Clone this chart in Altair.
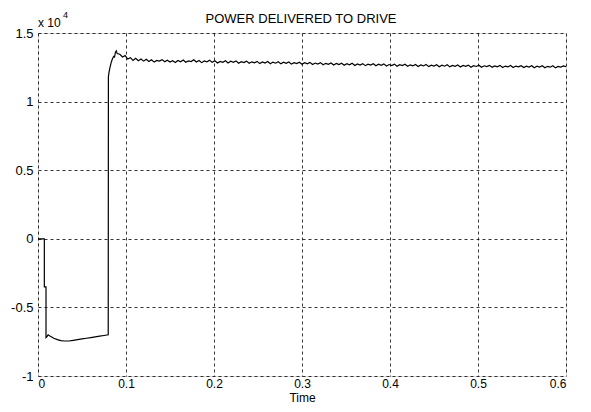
import altair as alt
import pandas as pd

# Transient part (time in s, power in units of 1e4)
t_transient = [0, 0.0072, 0.0072, 0.0091, 0.0091, 0.0100, 0.0115, 0.014, 0.018, 0.022,
               0.026, 0.030, 0.035, 0.040, 0.045, 0.050, 0.055, 0.060, 0.065, 0.070,
               0.075, 0.0798, 0.0800, 0.0806, 0.0815, 0.0830, 0.0845, 0.0860, 0.0870,
               0.0880, 0.0890, 0.0900]
p_transient = [0, 0, -0.35, -0.35, -0.72, -0.715, -0.70, -0.71, -0.725, -0.735,
               -0.742, -0.745, -0.745, -0.74, -0.735, -0.73, -0.725, -0.72, -0.715, -0.71,
               -0.705, -0.70, 1.18, 1.21, 1.24, 1.28, 1.31, 1.33, 1.325,
               1.36, 1.37, 1.35]

# Steady-state part, sampled every 0.003 s from 0.093 s
ss_start = 0.093
ss_step = 0.003
p_steady = [
    1.345, 1.325, 1.335, 1.310, 1.320, 1.300, 1.315, 1.298, 1.310, 1.295,
    1.308, 1.292, 1.305, 1.288, 1.300, 1.295, 1.306, 1.290, 1.302, 1.288,
    1.298, 1.285, 1.300, 1.290, 1.303, 1.287, 1.296, 1.292, 1.305, 1.289,
    1.300, 1.284, 1.296, 1.290, 1.302, 1.286, 1.297, 1.281, 1.293, 1.286,
    1.298, 1.282, 1.294, 1.287, 1.297, 1.280, 1.291, 1.284, 1.295, 1.279,
    1.290, 1.283, 1.293, 1.277, 1.289, 1.281, 1.292, 1.276, 1.288, 1.280,
    1.290, 1.275, 1.287, 1.279, 1.289, 1.273, 1.284, 1.277, 1.287, 1.272,
    1.283, 1.275, 1.286, 1.270, 1.281, 1.273, 1.284, 1.268, 1.279, 1.272,
    1.282, 1.267, 1.278, 1.270, 1.280, 1.265, 1.276, 1.268, 1.279, 1.263,
    1.275, 1.267, 1.277, 1.262, 1.273, 1.266, 1.276, 1.261, 1.272, 1.265,
    1.275, 1.259, 1.270, 1.263, 1.273, 1.258, 1.269, 1.262, 1.272, 1.257,
    1.268, 1.261, 1.271, 1.256, 1.267, 1.260, 1.270, 1.255, 1.266, 1.259,
    1.269, 1.254, 1.265, 1.258, 1.268, 1.253, 1.264, 1.257, 1.267, 1.252,
    1.263, 1.257, 1.266, 1.251, 1.262, 1.256, 1.265, 1.250, 1.261, 1.255,
    1.264, 1.250, 1.260, 1.254, 1.264, 1.249, 1.259, 1.253, 1.263, 1.249,
    1.259, 1.253, 1.262, 1.248, 1.258, 1.252, 1.262, 1.247, 1.258, 1.252,
    1.261, 1.247, 1.257, 1.251, 1.261, 1.246, 1.256, 1.251, 1.260, 1.255,
]
t_steady = [round(ss_start + ss_step * i, 4) for i in range(len(p_steady))]

x_ticks = [0, 0.1, 0.2, 0.3, 0.4, 0.5, 0.6]
y_ticks = [-1, -0.5, 0, 0.5, 1, 1.5]

times = t_transient + t_steady
power = p_transient + p_steady
df = pd.DataFrame({"t": times, "p": power, "i": list(range(len(times)))})

FONT = "Liberation Sans"

axis_common = dict(
    grid=True, gridColor="black", gridDash=[3, 3], gridOpacity=1, gridWidth=0.8,
    domain=False, ticks=False, labelFont=FONT, labelColor="black",
)

line = alt.Chart(df).mark_line(color="black", strokeWidth=1.2).encode(
    x=alt.X("t:Q", scale=alt.Scale(domain=[0, 0.6], nice=False, zero=False),
            axis=alt.Axis(values=x_ticks, labelExpr="toString(datum.value)",
                          title="Time", titleFont=FONT, titleFontSize=12,
                          titleFontWeight="normal", titleColor="black",
                          titleBaseline="alphabetic", titleY=25,
                          labelFontSize=12, labelPadding=2, **axis_common)),
    y=alt.Y("p:Q", scale=alt.Scale(domain=[-1, 1.5], nice=False, zero=False),
            axis=alt.Axis(values=y_ticks, labelExpr="toString(datum.value)",
                          title=None, labelFontSize=13, labelPadding=5, **axis_common)),
    order="i:Q",
)

title_df = pd.DataFrame({"label": ["POWER DELIVERED TO DRIVE"]})
title_text = alt.Chart(title_df).mark_text(
    align="center", baseline="alphabetic", font=FONT, fontSize=13, color="black"
).encode(text="label:N", x=alt.value(263), y=alt.value(-10))

exp_df = pd.DataFrame({"label": ["x 10"]})
exp_text = alt.Chart(exp_df).mark_text(
    align="left", baseline="alphabetic", font=FONT, fontSize=12, color="black"
).encode(text="label:N", x=alt.value(0), y=alt.value(-6.5))

sup_df = pd.DataFrame({"label": ["4"]})
sup_text = alt.Chart(sup_df).mark_text(
    align="left", baseline="alphabetic", font=FONT, fontSize=9, color="black"
).encode(text="label:N", x=alt.value(25), y=alt.value(-15))

chart = alt.layer(line, title_text, exp_text, sup_text).properties(
    width=528, height=343,
    autosize=alt.AutoSizeParams(type="none"),
    padding={"left": 30, "top": 25, "right": 14, "bottom": 28},
).configure_view(stroke="black", strokeWidth=1).configure(background="white")

chart.save("out.html", embed_options={"renderer": "svg", "actions": False})
